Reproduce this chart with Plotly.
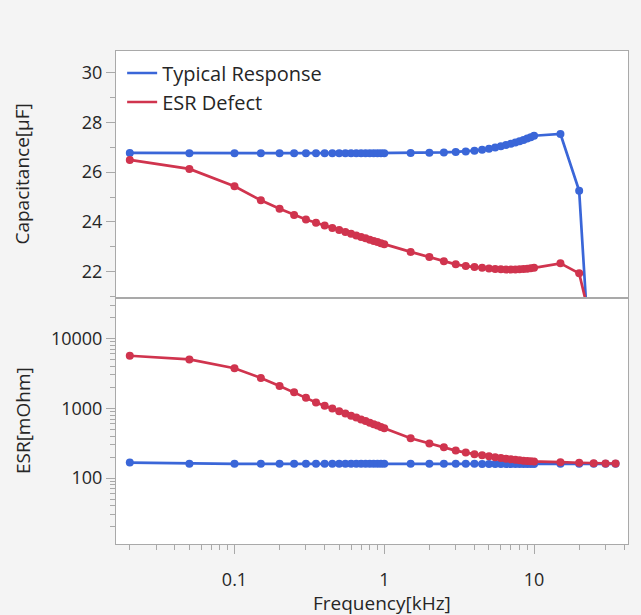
import plotly.graph_objects as go
from plotly.subplots import make_subplots

freq_khz = [0.02, 0.05, 0.1, 0.15, 0.2, 0.25, 0.3, 0.35, 0.4,
            0.45, 0.5, 0.55, 0.6, 0.65, 0.7, 0.75, 0.8, 0.85, 0.9, 0.95, 1.0,
            1.5, 2, 2.5, 3, 3.5, 4,
            4.5, 5, 5.5, 6, 6.5, 7, 7.5, 8, 8.5, 9, 9.5, 10,
            15, 20, 25, 30, 35]

cap_typical = [26.77, 26.76, 26.76, 26.76, 26.76, 26.76, 26.76, 26.76, 26.76,
               26.76, 26.76, 26.76, 26.76, 26.76, 26.76, 26.76, 26.76, 26.76, 26.76, 26.76, 26.76,
               26.77, 26.78, 26.79, 26.81, 26.83, 26.86,
               26.90, 26.94, 26.99, 27.04, 27.09, 27.14, 27.19, 27.24, 27.29, 27.35, 27.40, 27.46,
               27.53, 25.25, 15.8, 8.0, 2.0]

cap_defect = [26.49, 26.13, 25.43, 24.87, 24.53, 24.28, 24.10, 23.97, 23.86,
              23.76, 23.68, 23.60, 23.53, 23.46, 23.40, 23.35, 23.29, 23.24, 23.20, 23.15, 23.11,
              22.80, 22.59, 22.42, 22.30, 22.23, 22.19,
              22.16, 22.13, 22.11, 22.10, 22.09, 22.09, 22.09, 22.10, 22.11, 22.12, 22.14, 22.16,
              22.34, 21.94, 19.5, 17.0, 15.0]

esr_typical = [167, 161, 160, 160, 160, 160, 160, 160, 160,
               160, 160, 160, 160, 160, 160, 160, 160, 160, 160, 160, 160,
               160, 160, 160, 160, 160, 160,
               159, 159, 159, 159, 159, 159, 159, 159, 159, 159, 159, 159,
               160, 160, 160, 160, 160]

esr_defect = [5650, 5000, 3740, 2720, 2090, 1700, 1410, 1210, 1090,
              991, 910, 842, 785, 735, 692, 655, 621, 592, 565, 541, 519,
              373, 312, 277, 248, 232, 220,
              212, 205, 199, 194, 190, 186, 183, 180, 178, 176, 174, 173,
              169, 166, 163, 162, 162]

series_names = ["Typical Response", "ESR Defect"]
y_titles = ["Capacitance[μF]", "ESR[mOhm]"]
x_title = "Frequency[kHz]"

BLUE = "#3A66D8"
RED = "#D0344E"
FRAME = "#A9A9A9"
TXT = "#262626"
BG = "#F4F4F4"
FONT = "Open Sans"

fig = make_subplots(rows=2, cols=1, shared_xaxes=True, vertical_spacing=0)

for name, cap, esr, col in [(series_names[0], cap_typical, esr_typical, BLUE),
                            (series_names[1], cap_defect, esr_defect, RED)]:
    fig.add_trace(go.Scatter(x=freq_khz, y=cap, mode="lines+markers", name=name,
                             line=dict(color=col, width=2.7),
                             marker=dict(color=col, size=8), showlegend=False),
                  row=1, col=1)
    fig.add_trace(go.Scatter(x=freq_khz, y=esr, mode="lines+markers", name=name,
                             line=dict(color=col, width=2.7),
                             marker=dict(color=col, size=8), showlegend=False),
                  row=2, col=1)
    # legend entry (line only)
    fig.add_trace(go.Scatter(x=[None], y=[None], mode="lines", name=name,
                             line=dict(color=col, width=2.5), showlegend=True),
                  row=1, col=1)

axis_common = dict(showline=True, linecolor=FRAME, linewidth=1, mirror=True,
                   showgrid=False, zeroline=False, tickcolor=FRAME, automargin=False,
                   tickfont=dict(family=FONT, size=18, color=TXT))

fig.update_xaxes(type="log", range=[-1.791, 1.627], **axis_common)
fig.update_xaxes(row=1, col=1, ticks="", showticklabels=False)
fig.update_xaxes(row=2, col=1, ticks="outside", ticklen=9, dtick=1, ticklabelstandoff=10,
                 minor=dict(ticks="outside", ticklen=5, tickcolor=FRAME, dtick="D1", showgrid=False))

fig.update_yaxes(row=1, col=1, range=[20.97, 30.86], dtick=2, tick0=0, ticks="outside", ticklen=9,
                 minor=dict(ticks="outside", ticklen=5, tickcolor=FRAME, dtick=1, showgrid=False),
                 **axis_common)
fig.update_yaxes(row=2, col=1, type="log", range=[1.057, 4.586], dtick=1, ticks="outside", ticklen=9,
                 tickformat="d",
                 minor=dict(ticks="outside", ticklen=5, tickcolor=FRAME, dtick="D1", showgrid=False),
                 **axis_common)

# axis titles placed like the original
for txt, yc in [(y_titles[0], 0.75), (y_titles[1], 0.25)]:
    fig.add_annotation(text=txt, xref="paper", yref="paper", x=-0.183, y=yc,
                       xanchor="center", yanchor="middle", textangle=-90, showarrow=False,
                       font=dict(family=FONT, size=19, color=TXT))
fig.add_annotation(text=x_title, xref="paper", yref="paper", x=0.52, y=-0.12,
                   xanchor="center", yanchor="middle", showarrow=False,
                   font=dict(family=FONT, size=19, color=TXT))

fig.update_layout(
    width=641, height=615,
    margin=dict(l=116, r=13, t=51, b=71),
    paper_bgcolor=BG, plot_bgcolor="white",
    legend=dict(x=0.012, y=0.995, xanchor="left", yanchor="top",
                bgcolor="rgba(0,0,0,0)", font=dict(family=FONT, size=20, color=TXT),
                tracegroupgap=0, itemwidth=30),
    showlegend=True,
)

fig.write_html("out.html", config={"displayModeBar": False},
               post_script="document.body.style.margin='0';document.body.style.background='%s';" % BG)
